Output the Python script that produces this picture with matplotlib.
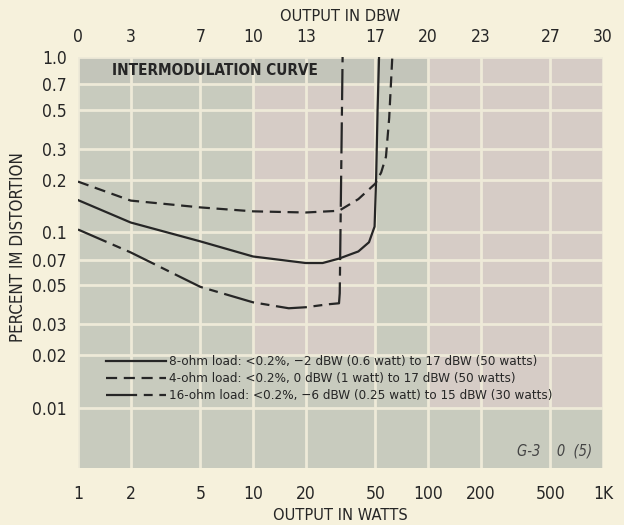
import matplotlib
matplotlib.use("Agg")
import matplotlib.pyplot as plt

plt.rcParams['font.family'] = ['DejaVu Sans']
plt.rcParams['font.stretch'] = 'condensed'

# x positions (watts) used for both axes; top axis shows the same points in dBW
watt_ticks = [1, 2, 5, 10, 20, 50, 100, 200, 500, 1000]
watt_labels = ['1', '2', '5', '10', '20', '50', '100', '200', '500', '1K']
dbw_labels = ['0', '3', '7', '10', '13', '17', '20', '23', '27', '30']

im_ticks = [1.0, 0.7, 0.5, 0.3, 0.2, 0.1, 0.07, 0.05, 0.03, 0.02, 0.01]
im_labels = ['1.0', '0.7', '0.5', '0.3', '0.2', '0.1', '0.07', '0.05', '0.03', '0.02', '0.01']

# 8-ohm load (solid)
watts_8 = [1, 2, 5, 10, 20, 25, 31, 40, 46, 49.5, 50.5, 51.5, 52.5]
im_8 = [0.153, 0.114, 0.089, 0.073, 0.067, 0.067, 0.071, 0.078, 0.088, 0.108, 0.2, 0.5, 1.0]

# 4-ohm load (dashed)
watts_4 = [1, 2, 5, 10, 20, 31, 40, 50, 54, 57.5, 60, 62.5]
im_4 = [0.195, 0.152, 0.139, 0.132, 0.13, 0.133, 0.155, 0.19, 0.22, 0.27, 0.45, 1.0]

# 16-ohm load (long-short dash)
watts_16 = [1, 2, 5, 10, 16, 20, 27, 31, 31.3, 32.5]
im_16 = [0.104, 0.077, 0.049, 0.040, 0.037, 0.0375, 0.039, 0.0395, 0.045, 1.0]

labels = [
    "8-ohm load: <0.2%, \u22122 dBW (0.6 watt) to 17 dBW (50 watts)",
    "4-ohm load: <0.2%, 0 dBW (1 watt) to 17 dBW (50 watts)",
    "16-ohm load: <0.2%, \u22126 dBW (0.25 watt) to 15 dBW (30 watts)",
]

page = '#f6f1dc'
green = '#c8cbbe'
pink = '#d6ccc6'
ink = '#262626'

fig = plt.figure(figsize=(6.24, 5.25), dpi=100, facecolor=page)
ax = fig.add_axes([0.125, 0.1086, 0.8414, 0.7828])
ax.set_facecolor(green)
ax.set_xscale('log')
ax.set_yscale('log')
ax.set_xlim(1, 1000)
ax.set_ylim(0.00455, 1.0)

# patchy background tint like the printed sheet
ax.fill_between([10, 50], 0.02, 0.7, color=pink, lw=0, zorder=0)
ax.fill_between([100, 1000], 0.01, 1.0, color=pink, lw=0, zorder=0)
ax.fill_between([1, 100], 0.7, 1.0, color='#c3c5ba', lw=0, zorder=0)

ax.plot(watts_8, im_8, color=ink, lw=1.6, label=labels[0], zorder=3)
ax.plot(watts_4, im_4, color=ink, lw=1.6, dashes=(5, 3), label=labels[1], zorder=3)
ax.plot(watts_16, im_16, color=ink, lw=1.6, dashes=(14, 3, 4, 3), label=labels[2], zorder=3)

ax.set_xticks(watt_ticks)
ax.set_xticklabels(watt_labels)
ax.set_yticks(im_ticks)
ax.set_yticklabels(im_labels)
ax.minorticks_off()
ax.tick_params(axis='x', length=0, pad=12, labelsize=12.5, colors=ink)
ax.tick_params(axis='y', length=0, pad=8, labelsize=12.5, colors=ink)
ax.grid(True, color='#eeead8', lw=2, zorder=1)
ax.set_axisbelow(True)
for s in ax.spines.values():
    s.set_visible(False)

top = ax.secondary_xaxis('top')
top.set_xticks(watt_ticks)
top.set_xticklabels(dbw_labels)
top.minorticks_off()
top.tick_params(length=0, pad=8, labelsize=12.5, colors=ink)
for s in top.spines.values():
    s.set_visible(False)

ax.set_xlabel("OUTPUT IN WATTS", fontsize=11.8, color=ink, labelpad=4)
top.set_xlabel("OUTPUT IN DBW", fontsize=11.8, color=ink, labelpad=5)
fig.text(0.029, 0.53, "PERCENT IM DISTORTION", rotation=90, fontsize=12.2,
         color=ink, ha='center', va='center')

ax.text(0.065, 0.968, "INTERMODULATION CURVE", transform=ax.transAxes,
        fontsize=11, fontweight='bold', color=ink, va='center', ha='left', zorder=4)
ax.text(0.836, 0.024, "G-3    0  (5)", transform=ax.transAxes, fontsize=10.5,
        style='italic', color='#444444', va='bottom', ha='left')

ax.legend(loc='upper left', bbox_to_anchor=(0.04, 0.29), frameon=False,
          borderpad=0, handlelength=4.5, handletextpad=0.25, labelspacing=0.3,
          fontsize=9.6, labelcolor=ink)

fig.savefig("out.png", dpi=100, facecolor=page)
